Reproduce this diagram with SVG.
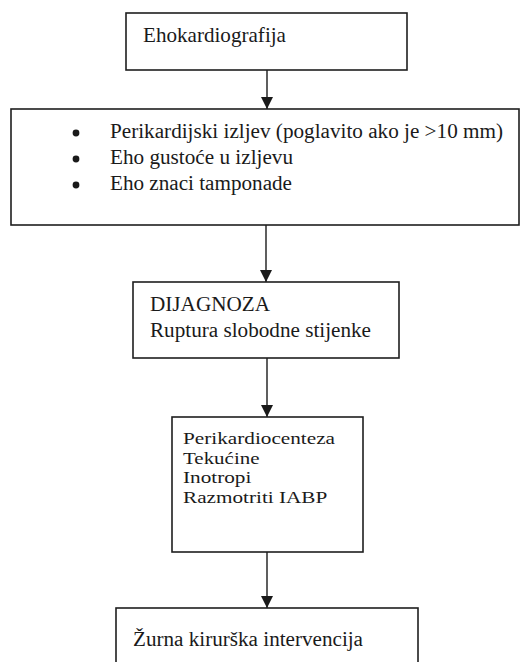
<svg xmlns="http://www.w3.org/2000/svg" width="521" height="662" viewBox="0 0 521 662">
  <defs>
    <marker id="head" markerUnits="userSpaceOnUse" markerWidth="12" markerHeight="12" refX="12" refY="6" orient="auto">
      <path d="M0,0 L12,6 L0,12 Z" fill="#1a1a1a"/>
    </marker>
    <style>
      .box { fill: #ffffff; stroke: #1f1f1f; stroke-width: 1.6; }
      text { font-family: 'Liberation Serif', 'Times New Roman', serif; font-size: 20px; fill: #1a1a1a; }
      .big { font-size: 21px; }
      .tight { font-size: 17px; }
      .link { stroke: #1a1a1a; stroke-width: 1.4; fill: none; marker-end: url(#head); }
      .dot { fill: #1a1a1a; }
    </style>
  </defs>
  <rect width="521" height="662" fill="#ffffff"/>

  <!-- connectors -->
  <g id="connectors">
    <line class="link" x1="267" y1="70" x2="267" y2="109"/>
    <line class="link" x1="266" y1="225" x2="266" y2="282"/>
    <line class="link" x1="267" y1="358" x2="267" y2="417"/>
    <line class="link" x1="267" y1="552" x2="267" y2="608"/>
  </g>

  <!-- echocardiography -->
  <g id="node-eho">
    <rect class="box" x="126" y="13" width="281" height="57"/>
    <text class="big" x="143" y="42" textLength="143" lengthAdjust="spacingAndGlyphs">Ehokardiografija</text>
  </g>

  <!-- echo findings -->
  <g id="node-nalazi">
    <rect class="box" x="11" y="109" width="508" height="116"/>
    <circle class="dot" cx="76" cy="133" r="3.4"/>
    <circle class="dot" cx="76" cy="159" r="3.4"/>
    <circle class="dot" cx="76" cy="185" r="3.4"/>
    <text x="110" y="138" textLength="393" lengthAdjust="spacingAndGlyphs">Perikardijski izljev (poglavito ako je &gt;10 mm)</text>
    <text x="110" y="164" textLength="183" lengthAdjust="spacingAndGlyphs">Eho gustoće u izljevu</text>
    <text x="110" y="190" textLength="182" lengthAdjust="spacingAndGlyphs">Eho znaci tamponade</text>
  </g>

  <!-- diagnosis -->
  <g id="node-dijagnoza">
    <rect class="box" x="133" y="282" width="266" height="76"/>
    <text x="150" y="311" textLength="120" lengthAdjust="spacingAndGlyphs">DIJAGNOZA</text>
    <text x="150" y="337" textLength="221" lengthAdjust="spacingAndGlyphs">Ruptura slobodne stijenke</text>
  </g>

  <!-- treatment -->
  <g id="node-terapija">
    <rect class="box" x="172" y="417" width="191" height="135"/>
    <text class="tight" x="183" y="444" textLength="152" lengthAdjust="spacingAndGlyphs">Perikardiocenteza</text>
    <text class="tight" x="183" y="463.5" textLength="76.5" lengthAdjust="spacingAndGlyphs">Tekućine</text>
    <text class="tight" x="183" y="483" textLength="68.3" lengthAdjust="spacingAndGlyphs">Inotropi</text>
    <text class="tight" x="183" y="502.5" textLength="144.3" lengthAdjust="spacingAndGlyphs">Razmotriti IABP</text>
  </g>

  <!-- surgery -->
  <g id="node-kirurgija">
    <rect class="box" x="116" y="608" width="302" height="80"/>
    <text x="133" y="646" textLength="230" lengthAdjust="spacingAndGlyphs">Žurna kirurška intervencija</text>
  </g>
</svg>
